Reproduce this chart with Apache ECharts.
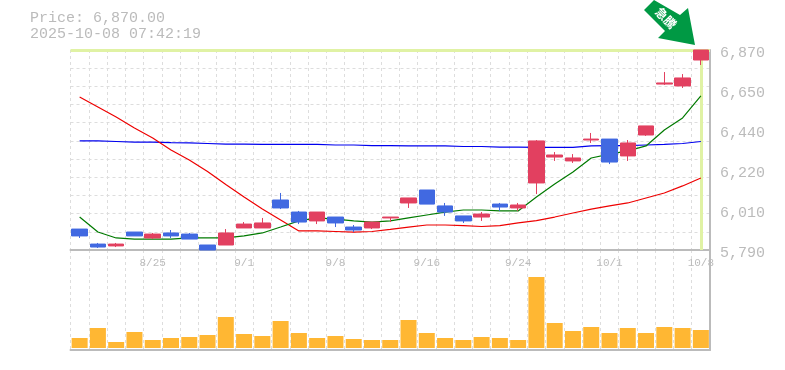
<!DOCTYPE html>
<html><head><meta charset="utf-8">
<style>html,body{margin:0;padding:0;background:#fff}#c{width:785px;height:370px}</style>
<script src="https://cdn.jsdelivr.net/npm/echarts@6/dist/echarts.min.js"></script>
</head><body><div id="c"></div>
<script>
const priceText = 'Price: 6,870.00';
const timeText = '2025-10-08 07:42:19';
const badgeText = '急騰';
const categories = ['8/19','8/20','8/21','8/22','8/25','8/26','8/27','8/28','8/29','9/1','9/2','9/3','9/4','9/5','9/8','9/9','9/10','9/11','9/12','9/16','9/17','9/18','9/19','9/22','9/24','9/25','9/26','9/29','9/30','10/1','10/2','10/3','10/6','10/7','10/8'];
// open, close, low, high
const candles = [
[5903,5866,5855,5903],[5822,5806,5801,5828],[5812,5822,5806,5828],[5887,5866,5866,5887],[5855,5876,5849,5882],
[5882,5866,5855,5898],[5876,5849,5849,5882],[5817,5790,5790,5817],[5817,5882,5817,5903],[5909,5930,5909,5941],
[5909,5936,5909,5963],[6060,6017,6011,6098],[5995,5941,5930,6001],[5947,5995,5930,5995],[5968,5936,5914,5968],
[5914,5898,5887,5925],[5909,5941,5903,5941],[5963,5968,5941,5968],[6044,6071,6017,6071],[6114,6038,6038,6114],
[6028,5995,5974,6044],[5974,5947,5936,5974],[5968,5984,5947,5995],[6038,6022,6001,6044],[6017,6033,6001,6044],
[6152,6379,6092,6384],[6292,6303,6271,6319],[6271,6287,6260,6308],[6384,6389,6368,6422],[6389,6265,6254,6389],
[6298,6368,6271,6384],[6411,6460,6406,6460],[6686,6692,6681,6751],[6676,6719,6665,6740],[6816,6870,6789,6870]];
const maGreen = [5968,5887,5855,5849,5849,5849,5855,5855,5855,5866,5882,5914,5947,5963,5957,5947,5941,5947,5963,5979,5995,6006,6006,6001,6001,6076,6146,6211,6287,6308,6325,6352,6438,6503,6622];
const maRed = [6616,6562,6508,6449,6395,6330,6276,6214,6144,6076,6011,5952,5893,5893,5890,5887,5890,5901,5914,5925,5925,5922,5917,5922,5936,5949,5968,5990,6011,6028,6044,6071,6098,6136,6179];
const maBlue = [6379,6379,6376,6373,6373,6370,6368,6365,6362,6362,6360,6360,6360,6360,6357,6357,6354,6354,6352,6352,6352,6349,6349,6346,6346,6344,6344,6344,6352,6354,6354,6357,6360,6365,6376];
const volumes = [10,20,6,16,8,10,11,13,31,14,12,27,15,10,12,9,8,8,28,15,10,8,11,10,8,71,25,17,21,15,20,15,21,20,18];
const priceTicks = [5790,6006,6222,6438,6654,6870];

const AXIS = '#bbbbbb', GRIDC = '#dddddd', MONO = '"Liberation Mono", monospace';
const UP = '#E24060', DOWN = '#4169E1', HL = '#E0F2A4';
const dash = {show:true, interval:0, lineStyle:{color:GRIDC, type:[3,3], width:1}};
const chart = echarts.init(document.getElementById('c'), null, {renderer:'canvas'});
chart.setOption({
  animation:false,
  backgroundColor:'#fff',
  title:{left:25, top:5, text:priceText+'\n'+timeText,
    textStyle:{fontFamily:MONO, fontSize:15, fontWeight:'normal', color:AXIS, lineHeight:16}},
  grid:[{left:70.5, right:75, top:50, height:200},{left:70.5, right:75, top:250, height:100}],
  xAxis:[
    {type:'category', gridIndex:0, data:categories, boundaryGap:true,
     axisLine:{lineStyle:{color:AXIS, width:2}}, axisTick:{show:false},
     splitLine:dash,
     axisLabel:{interval:(i)=>i%5===4, fontFamily:MONO, fontSize:11, color:AXIS, margin:8, hideOverlap:false}},
    {type:'category', gridIndex:1, data:categories, boundaryGap:true,
     axisLine:{onZero:false, lineStyle:{color:AXIS, width:2}}, axisTick:{show:false}, axisLabel:{show:false},
     splitLine:dash}
  ],
  yAxis:[
    {type:'value', gridIndex:0, position:'right', min:5790, max:6870, scale:true,
     axisLine:{show:true, onZero:false, lineStyle:{color:AXIS, width:2}}, axisTick:{show:false}, splitLine:{show:false},
     axisLabel:{customValues:priceTicks, showMinLabel:true, showMaxLabel:true, fontFamily:MONO, fontSize:15, color:AXIS, margin:10, verticalAlign:'top', lineHeight:7,
       formatter:(v)=>(Math.round(v/10)*10).toLocaleString('en-US')}},
    {type:'value', gridIndex:0, position:'left', min:0, max:11, interval:1,
     axisLine:{show:false}, axisTick:{show:false}, axisLabel:{show:false},
     splitLine:{show:true, lineStyle:{color:GRIDC, type:[3,3], width:1}}},
    {type:'value', gridIndex:1, position:'right', min:-2, max:98,
     axisLine:{show:true, onZero:false, lineStyle:{color:AXIS, width:2}}, axisTick:{show:false}, axisLabel:{show:false}, splitLine:{show:false}}
  ],
  series:[
    {type:'line', name:'hl', xAxisIndex:0, yAxisIndex:0, data:[], z:1, silent:true,
     markLine:{silent:true, z:1, symbol:'none', label:{show:false}, animation:false,
       lineStyle:{color:HL, type:'solid', width:3},
       data:[{yAxis:6870},{xAxis:categories[categories.length-1]}]}},
    {type:'line', name:'ma75', xAxisIndex:0, yAxisIndex:0, data:maBlue, showSymbol:false, z:3, lineStyle:{color:'#0000EE', width:1.2}},
    {type:'line', name:'ma25', xAxisIndex:0, yAxisIndex:0, data:maRed, showSymbol:false, z:3, lineStyle:{color:'#EE0000', width:1.2}},
    {type:'line', name:'ma5', xAxisIndex:0, yAxisIndex:0, data:maGreen, showSymbol:false, z:3, lineStyle:{color:'#007A00', width:1.2}},
    {type:'candlestick', xAxisIndex:0, yAxisIndex:0, data:candles, barWidth:16, z:4, clip:false,
     itemStyle:{color:UP, color0:DOWN, borderColor:UP, borderColor0:DOWN, borderWidth:1}},
    {type:'bar', xAxisIndex:1, yAxisIndex:2, data:volumes, barWidth:16, itemStyle:{color:'#FFB733'}}
  ],
  graphic:[
    {type:'polygon', z:10, shape:{points:[[644,10],[654,0],[680,15],[688,8],[695,45],[658,38],[665,31]]}, style:{fill:'#009944'}},
    {type:'text', z:11, x:666, y:18, rotation:-Math.PI/4, originX:0, originY:0,
     style:{text:badgeText, fill:'#fff', font:'bold 12px "Noto Sans CJK JP"', align:'center', verticalAlign:'middle'}}
  ]
});
</script></body></html>
